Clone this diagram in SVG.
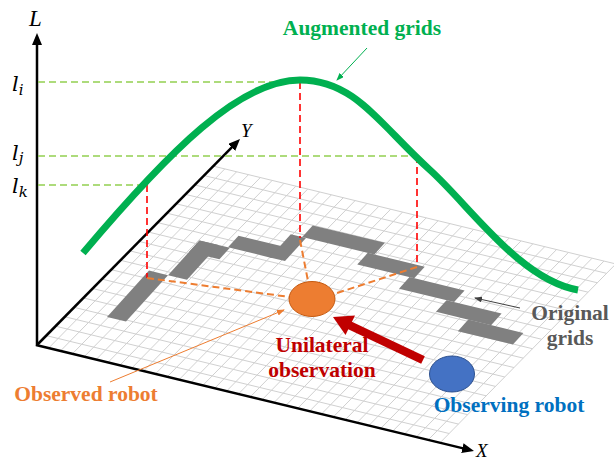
<svg xmlns="http://www.w3.org/2000/svg" width="614" height="460" viewBox="0 0 614 460">
<defs>
<style>
.grid line{stroke:#D0D0D0;stroke-width:1;vector-effect:non-scaling-stroke}
.gray rect{fill:#808080}
.axis{stroke:#000;stroke-width:2.5;fill:none}
.gdash{stroke:#92D050;stroke-width:1.5;stroke-dasharray:7 4;fill:none}
.rdash{stroke:#FF0000;stroke-width:1.6;stroke-dasharray:7 4;fill:none}
.odash{stroke:#ED7D31;stroke-width:2;stroke-dasharray:7 4;fill:none}
.lbl{font-family:"Liberation Serif","Times New Roman",serif;font-weight:bold;font-size:21.5px}
.math{font-family:"Liberation Serif","Times New Roman",serif;font-style:italic}
.lvar{font-family:"DejaVu Serif","Liberation Serif",serif;font-style:italic;font-size:21px}
</style>
<marker id="ah" markerUnits="userSpaceOnUse" markerWidth="12" markerHeight="10" refX="2" refY="5" orient="auto"><path d="M0,0 L12,5 L0,10 z" fill="#000"/></marker>
<marker id="ahO" markerUnits="userSpaceOnUse" markerWidth="8" markerHeight="6" refX="7" refY="3" orient="auto"><path d="M0,0 L8,3 L0,6 z" fill="#ED7D31"/></marker>
<marker id="ahG" markerUnits="userSpaceOnUse" markerWidth="8" markerHeight="6" refX="7" refY="3" orient="auto"><path d="M0,0 L8,3 L0,6 z" fill="#00B050"/></marker>
<marker id="ahK" markerUnits="userSpaceOnUse" markerWidth="8" markerHeight="6" refX="7" refY="3" orient="auto"><path d="M0,0 L8,3 L0,6 z" fill="#404040"/></marker>
</defs>
<rect width="614" height="460" fill="#fff"/>

<g id="grid-plane" class="grid" transform="matrix(11.85 2.88 9.26 -9.42 37 345)">
<line x1="0" y1="0" x2="0" y2="19"/><line x1="1" y1="0" x2="1" y2="19"/><line x1="2" y1="0" x2="2" y2="19"/><line x1="3" y1="0" x2="3" y2="19"/><line x1="4" y1="0" x2="4" y2="19"/><line x1="5" y1="0" x2="5" y2="19"/><line x1="6" y1="0" x2="6" y2="19"/><line x1="7" y1="0" x2="7" y2="19"/><line x1="8" y1="0" x2="8" y2="19"/><line x1="9" y1="0" x2="9" y2="19"/><line x1="10" y1="0" x2="10" y2="19"/><line x1="11" y1="0" x2="11" y2="19"/><line x1="12" y1="0" x2="12" y2="19"/><line x1="13" y1="0" x2="13" y2="19"/><line x1="14" y1="0" x2="14" y2="19"/><line x1="15" y1="0" x2="15" y2="19"/><line x1="16" y1="0" x2="16" y2="19"/><line x1="17" y1="0" x2="17" y2="19"/><line x1="18" y1="0" x2="18" y2="19"/><line x1="19" y1="0" x2="19" y2="19"/><line x1="20" y1="0" x2="20" y2="19"/><line x1="21" y1="0" x2="21" y2="19"/><line x1="22" y1="0" x2="22" y2="19"/><line x1="23" y1="0" x2="23" y2="19"/><line x1="24" y1="0" x2="24" y2="19"/><line x1="25" y1="0" x2="25" y2="19"/><line x1="26" y1="0" x2="26" y2="19"/><line x1="27" y1="0" x2="27" y2="19"/><line x1="28" y1="0" x2="28" y2="19"/><line x1="29" y1="0" x2="29" y2="19"/><line x1="30" y1="0" x2="30" y2="19"/><line x1="31" y1="0" x2="31" y2="19"/><line x1="32" y1="0" x2="32" y2="19"/><line x1="33" y1="0" x2="33" y2="19"/><line x1="34" y1="0" x2="34" y2="19"/>
<line x1="0" y1="0" x2="34" y2="0"/><line x1="0" y1="1" x2="34" y2="1"/><line x1="0" y1="2" x2="34" y2="2"/><line x1="0" y1="3" x2="34" y2="3"/><line x1="0" y1="4" x2="34" y2="4"/><line x1="0" y1="5" x2="34" y2="5"/><line x1="0" y1="6" x2="34" y2="6"/><line x1="0" y1="7" x2="34" y2="7"/><line x1="0" y1="8" x2="34" y2="8"/><line x1="0" y1="9" x2="34" y2="9"/><line x1="0" y1="10" x2="34" y2="10"/><line x1="0" y1="11" x2="34" y2="11"/><line x1="0" y1="12" x2="34" y2="12"/><line x1="0" y1="13" x2="34" y2="13"/><line x1="0" y1="14" x2="34" y2="14"/><line x1="0" y1="15" x2="34" y2="15"/><line x1="0" y1="16" x2="34" y2="16"/><line x1="0" y1="17" x2="34" y2="17"/><line x1="0" y1="18" x2="34" y2="18"/><line x1="0" y1="19" x2="34" y2="19"/>
</g>

<g id="original-grids" class="gray" transform="matrix(19 4.6 10.5 -11.6 107 317)">
<rect x="0" y="0" width="1" height="4"/>
<rect x="1" y="4" width="1" height="3"/>
<rect x="1" y="6" width="1.6" height="1"/>
<rect x="2.5" y="7" width="2.3" height="1"/>
<rect x="4.7" y="7" width="0.8" height="2"/>
<rect x="5.3" y="9" width="3.8" height="1"/>
<rect x="8.75" y="8" width="3" height="1"/>
<rect x="11.5" y="7" width="2.9" height="1"/>
<rect x="14" y="6" width="2.9" height="1"/>
<rect x="15.7" y="5" width="2.9" height="1"/>
</g>

<g id="axes">
<line class="axis" x1="37" y1="346" x2="37" y2="43" marker-end="url(#ah)"/>
<line class="axis" x1="37" y1="345" x2="233" y2="146.1" marker-end="url(#ah)"/>
<line class="axis" x1="36" y1="345" x2="464.3" y2="448.6" marker-end="url(#ah)"/>
<text class="math" x="29" y="26" font-size="23">L</text>
<text class="math" x="241" y="137" font-size="19">Y</text>
<text class="math" x="476" y="457" font-size="19">X</text>
<text class="lvar" x="12" y="91">l<tspan font-size="15" dy="4">i</tspan></text>
<text class="lvar" x="12" y="160">l<tspan font-size="15" dy="3">j</tspan></text>
<text class="lvar" x="12" y="193">l<tspan font-size="15" dy="4">k</tspan></text>
</g>

<g id="connectors">
<line class="gdash" x1="38" y1="82" x2="300" y2="82"/>
<line class="gdash" x1="38" y1="156" x2="416" y2="156"/>
<line class="gdash" x1="38" y1="185" x2="145" y2="185"/>
<line class="rdash" x1="147" y1="185" x2="147" y2="278"/>
<line class="rdash" x1="300" y1="82" x2="300" y2="238"/>
<line class="rdash" x1="417" y1="156" x2="417" y2="266"/>
<line class="odash" x1="147" y1="278" x2="290" y2="297"/>
<line class="odash" x1="300" y1="240" x2="308" y2="281"/>
<line class="odash" x1="417" y1="267" x2="334" y2="294"/>
<line x1="110" y1="382" x2="284" y2="310" stroke="#ED7D31" stroke-width="1" marker-end="url(#ahO)"/>
<line x1="367" y1="48" x2="337" y2="80" stroke="#00B050" stroke-width="1" marker-end="url(#ahG)"/>
<line x1="520" y1="308" x2="475" y2="298" stroke="#404040" stroke-width="1" marker-end="url(#ahK)"/>
<g id="unilateral-arrow" fill="#C00000">
<line x1="423" y1="360" x2="349" y2="325" stroke="#C00000" stroke-width="8.5"/>
<polygon points="333,317 355,315.5 345.5,335"/>
</g>
</g>

<g id="augmented-curve">
<path d="M83,253 C170,150 240,80 300,80 C355,80 380,125 430,170 C470,206 520,280 578,290" fill="none" stroke="#00B050" stroke-width="7"/>
</g>

<g id="observed-robot">
<ellipse cx="312" cy="299" rx="23" ry="17.5" fill="#ED7D31" stroke="#C55A11" stroke-width="1"/>
</g>
<g id="observing-robot">
<ellipse cx="452" cy="374" rx="22.5" ry="18" fill="#4472C4" stroke="#2F528F" stroke-width="1"/>
</g>

<g id="labels" class="lbl">
<text x="362" y="35" text-anchor="middle" fill="#00B050">Augmented grids</text>
<text x="570" y="320" text-anchor="middle" fill="#595959">Original</text>
<text x="570" y="345" text-anchor="middle" fill="#595959">grids</text>
<text x="322" y="352" text-anchor="middle" fill="#C00000">Unilateral</text>
<text x="322" y="377" text-anchor="middle" fill="#C00000">observation</text>
<text x="86" y="401" text-anchor="middle" fill="#ED7D31">Observed robot</text>
<text x="509" y="412" text-anchor="middle" fill="#0070C0">Observing robot</text>
</g>
</svg>
